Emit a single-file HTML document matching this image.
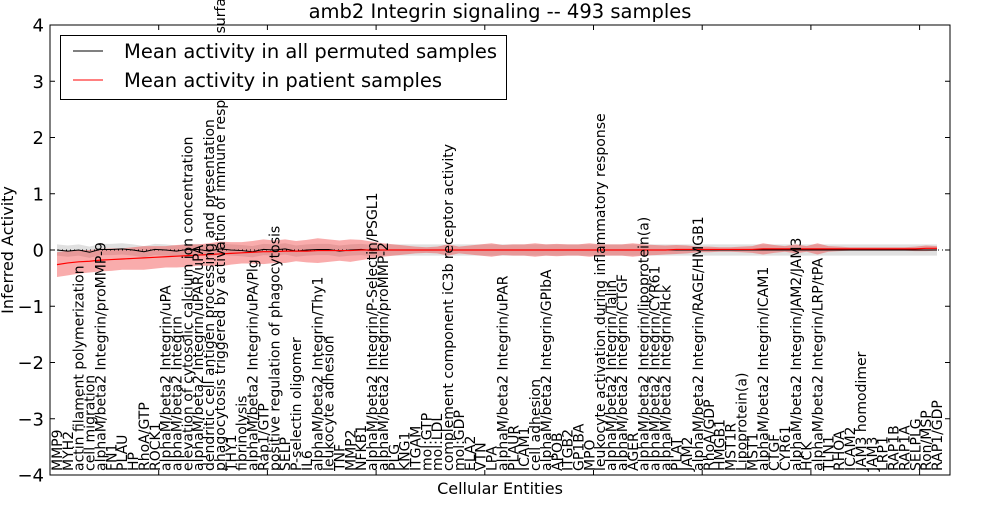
<!DOCTYPE html>
<html><head><meta charset="utf-8"><style>
body{margin:0;background:#fff;}
svg{font-family:"DejaVu Sans","Liberation Sans",sans-serif;}
</style></head><body>
<svg id="chart" width="1000" height="500" viewBox="0 0 1000 500" xmlns="http://www.w3.org/2000/svg">
<text x="500" y="18" font-size="19.5" text-anchor="middle">amb2 Integrin signaling -- 493 samples</text>
<g id="plot"></g>
<text x="500" y="494" font-size="16" text-anchor="middle">Cellular Entities</text>
<text transform="translate(13,250) rotate(-90)" font-size="16" text-anchor="middle">Inferred Activity</text>
</svg>
<script>
const categories=["MMP9","MYH2","actin filament polymerization","cell migration","alphaM/beta2 Integrin/proMMP-9","FN1","PLAU","HP","RhoA/GTP","ROCK1","alphaM/beta2 Integrin/uPA","alphaM/beta2 Integrin","elevation of cytosolic calcium ion concentration","alphaM/beta2 Integrin/uPAR/uPA","dendritic cell antigen processing and presentation","phagocytosis triggered by activation of immune response cell surface activity","THY1","fibrinolysis","alphaM/beta2 Integrin/uPA/Plg","Rap1/GTP","positive regulation of phagocytosis","SELP","P-selectin oligomer","IL6","alphaM/beta2 Integrin/Thy1","leukocyte adhesion","TNF","MMP2","NFKB1","alphaM/beta2 Integrin/P-Selectin/PSGL1","alphaM/beta2 Integrin/proMMP-2","PLG","KNG1","ITGAM","mol:GTP","mol:LDL","complement component iC3b receptor activity","mol:GDP","ELA2","VTN","LPA","alphaM/beta2 Integrin/uPAR","PLAUR","ICAM1","cell adhesion","alphaM/beta2 Integrin/GPIbA","APOB","ITGB2","GP1BA","MPO","leukocyte activation during inflammatory response","alphaM/beta2 Integrin/Talin","alphaM/beta2 Integrin/CTGF","AGER","alphaM/beta2 Integrin/lipoprotein(a)","alphaM/beta2 Integrin/CYR61","alphaM/beta2 Integrin/Hck","PLAT","JAM2","alphaM/beta2 Integrin/RAGE/HMGB1","RhoA/GDP","HMGB1","MST1R","Lipoprotein(a)","MST1","alphaM/beta2 Integrin/ICAM1","CTGF","CYR61","alphaM/beta2 Integrin/JAM2/JAM3","HCK","alphaM/beta2 Integrin/LRP/tPA","TLN1","RHOA","ICAM2","JAM3 homodimer","JAM3","LRP1","RAP1B","RAP1A","SELPLG","Ron/MSP","RAP1/GDP"];
const permMean=[0,-0.02,0,-0.04,0.01,0.01,0.02,0,-0.03,0.01,0,-0.02,0.01,0.01,-0.02,0.02,0,-0.01,-0.03,0.01,0,0.02,-0.02,0,0.01,0.01,-0.02,0,0.01,-0.01,0,0,0,0,0,0,0,0,0,0,0,0,0,0,0,0,0,0,0,0,0,0,0,0,0,0,0,0,0,0,0,0,0,0,0,0,0,0,0,0,0,0,0,0,0,0,0,0,0,0,0,0];
const permSd=[0.1,0.1,0.1,0.1,0.1,0.1,0.1,0.1,0.1,0.1,0.1,0.1,0.1,0.1,0.1,0.1,0.1,0.1,0.1,0.1,0.1,0.1,0.1,0.1,0.1,0.1,0.1,0.1,0.1,0.1,0.1,0.1,0.1,0.1,0.1,0.1,0.1,0.1,0.1,0.1,0.1,0.1,0.1,0.1,0.1,0.1,0.1,0.1,0.1,0.1,0.1,0.1,0.1,0.1,0.1,0.1,0.1,0.1,0.1,0.1,0.1,0.1,0.1,0.1,0.1,0.1,0.1,0.1,0.1,0.1,0.1,0.1,0.1,0.1,0.1,0.1,0.1,0.1,0.1,0.1,0.1,0.1];
const patMean=[-0.26,-0.23,-0.21,-0.2,-0.18,-0.17,-0.16,-0.15,-0.14,-0.13,-0.12,-0.11,-0.1,-0.09,-0.08,-0.07,-0.06,-0.05,-0.04,-0.03,-0.03,-0.02,-0.02,-0.02,-0.01,-0.01,-0.01,-0.01,0,0,0,0,0,0,0,0,0,0,0,0,0,0,0,0,0,0,0,0,0,0,0,0,0,0,0,0,0,0.01,0.01,0.01,0.01,0.01,0.01,0.01,0.01,0.02,0.02,0.02,0.02,0.02,0.02,0.02,0.02,0.02,0.02,0.02,0.02,0.02,0.02,0.02,0.03,0.03];
const patSd=[0.22,0.22,0.21,0.2,0.2,0.2,0.19,0.2,0.21,0.2,0.19,0.2,0.2,0.19,0.2,0.22,0.2,0.19,0.2,0.22,0.2,0.21,0.18,0.2,0.22,0.2,0.18,0.2,0.18,0.15,0.12,0.1,0.08,0.06,0.05,0.06,0.1,0.06,0.08,0.1,0.12,0.09,0.1,0.1,0.12,0.1,0.11,0.1,0.1,0.12,0.1,0.1,0.1,0.12,0.1,0.09,0.08,0.08,0.07,0.05,0.05,0.04,0.04,0.05,0.06,0.1,0.07,0.05,0.08,0.05,0.1,0.05,0.04,0.03,0.03,0.03,0.03,0.03,0.03,0.04,0.05,0.04];
const yTicks=[4,3,2,1,0,-1,-2,-3,-4];
const yTickLabels=["4","3","2","1","0","\u22121","\u22122","\u22123","\u22124"];
const L=50,R=950,T=25,B=475;
const x=i=>57+i*(880/81);
const y=v=>250-v*56.25;
const NS="http://www.w3.org/2000/svg";
const g=document.getElementById('plot');
function mk(t,a){const e=document.createElementNS(NS,t);for(const k in a)e.setAttribute(k,a[k]);g.appendChild(e);return e;}
function band(m,s){let up=m.map((v,i)=>x(i)+","+y(v+s[i]));let dn=m.map((v,i)=>x(i)+","+y(v-s[i])).reverse();return up.concat(dn).join(" ");}
function line(m){return m.map((v,i)=>x(i)+","+y(v)).join(" ");}
let e;
e=mk('polygon',{points:band(permMean,permSd),fill:'#bbbbbb','fill-opacity':'0.45'});


e=mk('polygon',{points:band(patMean,patSd),fill:'#f03030','fill-opacity':'0.4'});


e=mk('line',{x1:L,x2:R,y1:y(0),y2:y(0),stroke:'#000','stroke-dasharray':'1,3','stroke-width':1});


e=mk('polyline',{points:line(permMean),fill:'none',stroke:'#000','stroke-width':1});


e=mk('polyline',{points:line(patMean),fill:'none',stroke:'#ff0000','stroke-width':1.2});


categories.forEach((c,i)=>{
  const t=mk('text',{transform:`translate(${x(i)+5},471) rotate(-90)`,'font-size':14});
  t.textContent=c;
  
  
});
yTicks.forEach((v,k)=>{
  mk('line',{x1:L,x2:L+5,y1:y(v),y2:y(v),stroke:'#000'});
  mk('line',{x1:R-5,x2:R,y1:y(v),y2:y(v),stroke:'#000'});
  const t=mk('text',{x:L-6,y:y(v)+6.5,'font-size':18,'text-anchor':'end'});
  t.textContent=yTickLabels[k];
  
  
});
for(let k=1;k<=8;k++){const xx=L+k*108.7;if(xx<R){mk('line',{x1:xx,x2:xx,y1:T,y2:T+5,stroke:'#000'});mk('line',{x1:xx,x2:xx,y1:B-5,y2:B,stroke:'#000'});}}
e=mk('rect',{x:L,y:T,width:R-L,height:B-T,fill:'none',stroke:'#000','stroke-width':1});


const lg=mk('g',{});


const add=(t,a,p)=>{const el=document.createElementNS(NS,t);for(const k in a)el.setAttribute(k,a[k]);p.appendChild(el);return el;};
add('rect',{x:60.5,y:35.5,width:446,height:64,fill:'#fff',stroke:'#000'},lg);
add('line',{x1:73,x2:103,y1:51,y2:51,stroke:'#000'},lg);
add('line',{x1:73,x2:103,y1:80,y2:80,stroke:'#f00'},lg);
let t1=add('text',{x:124,y:58,'font-size':19.5},lg);t1.textContent="Mean activity in all permuted samples";


let t2=add('text',{x:124,y:87,'font-size':19.5},lg);t2.textContent="Mean activity in patient samples";


</script>
</body></html>
